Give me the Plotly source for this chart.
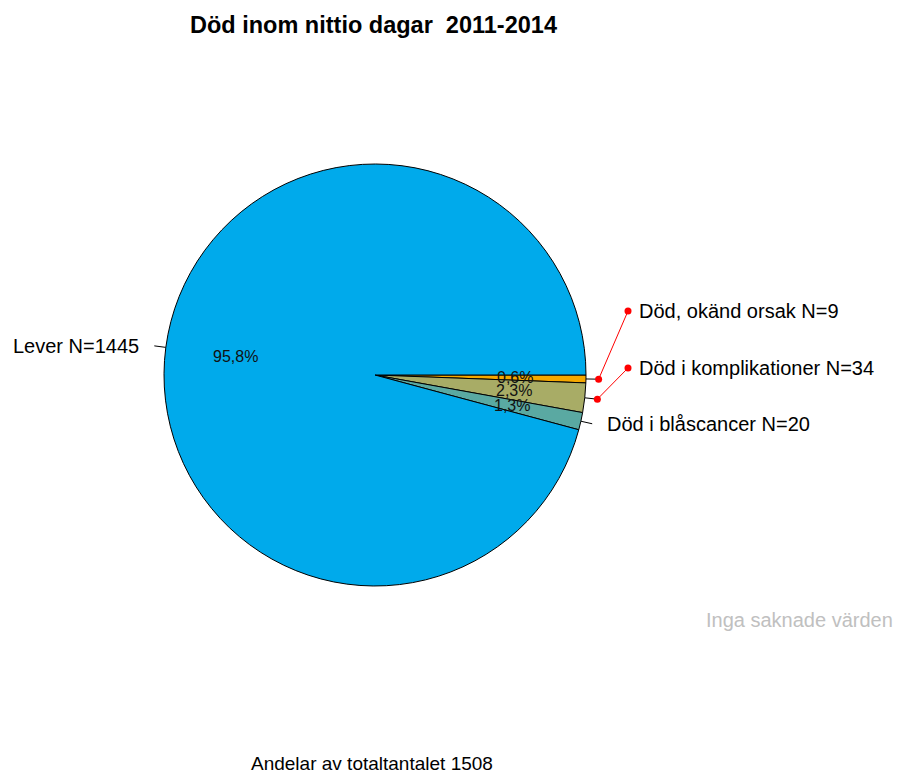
import numpy as np
import plotly.graph_objects as go

# ---- data ----
categories = ["Död, okänd orsak", "Död i komplikationer", "Död i blåscancer", "Lever"]
counts = [9, 34, 20, 1445]
colors = ["#F5A800", "#A8AC66", "#5AA9A2", "#00AAEB"]
total = sum(counts)
title_text = "Död inom nittio dagar  2011-2014"
footer_text = f"Andelar av totaltantalet {total}"
missing_text = "Inga saknade värden"

W, H = 897, 774
cx, cy, R = 375, 375, 211
FONT = "Liberation Sans, Arial"

fig = go.Figure()
fig.add_trace(go.Pie(
    values=counts, labels=categories, sort=False, direction="clockwise", rotation=90,
    marker=dict(colors=colors, line=dict(color="black", width=1)),
    textinfo="none", hoverinfo="skip",
    domain=dict(x=[(cx - R) / W, (cx + R) / W], y=[(H - cy - R) / H, (H - cy + R) / H]),
))

vals = np.array(counts, dtype=float)
frac = vals / vals.sum()
mid = np.cumsum(frac) - frac / 2
theta = 2 * np.pi * mid  # clockwise from 3 o'clock, screen coords

def pt(r, th):
    return cx + r * np.cos(th), cy + r * np.sin(th)

# percent labels (annotations so they sit above the pie)
px, py = pt(0.665 * R, theta)
pct = [f"{100*f:.1f}".replace(".", ",") + "%" for f in frac]
for x_, y_, t_ in zip(px, py, pct):
    fig.add_annotation(x=x_, y=y_, text=t_, showarrow=False, xanchor="center", yanchor="middle",
                       font=dict(family=FONT, size=16, color="#111111"))

# leader ticks (black, radial)
for i in range(len(counts)):
    x0, y0 = pt(R, theta[i])
    x1, y1 = pt(1.055 * R, theta[i])
    fig.add_trace(go.Scatter(x=[x0, x1], y=[y0, y1], mode="lines",
                             line=dict(color="black", width=1), hoverinfo="skip"))

# red repel lines for the two small ones
label_anchor = {0: (628, 311), 1: (628, 368)}
for i, (ax_, ay_) in label_anchor.items():
    x1, y1 = pt(1.06 * R, theta[i])
    fig.add_trace(go.Scatter(x=[x1, ax_], y=[y1, ay_], mode="lines+markers",
                             line=dict(color="#FF0000", width=1),
                             marker=dict(color="#FF0000", size=7), hoverinfo="skip"))

lab_font = dict(family=FONT, size=20, color="black")
names = [f"{c} N={n}" for c, n in zip(categories, counts)]
fig.add_annotation(x=637, y=311, text=names[0], showarrow=False, xanchor="left", yanchor="middle", font=lab_font)
fig.add_annotation(x=637, y=368, text=names[1], showarrow=False, xanchor="left", yanchor="middle", font=lab_font)
x2, y2 = pt(1.055 * R, theta[2])
fig.add_annotation(x=605, y=y2, text=names[2], showarrow=False, xanchor="left", yanchor="middle", font=lab_font)
x3, y3 = pt(1.055 * R, theta[3])
fig.add_annotation(x=x3 - 13, y=y3, text=names[3], showarrow=False, xanchor="right", yanchor="middle", font=lab_font)

fig.add_annotation(x=373, y=25, text=f"<b>{title_text}</b>", showarrow=False, xanchor="center", yanchor="middle",
                   font=dict(family=FONT, size=23.5, color="black"))
fig.add_annotation(x=895, y=620, text=missing_text, showarrow=False, xanchor="right", yanchor="middle",
                   font=dict(family=FONT, size=20, color="#C0C0C0"))
fig.add_annotation(x=372, y=763, text=footer_text, showarrow=False, xanchor="center", yanchor="middle",
                   font=dict(family=FONT, size=19, color="black"))

fig.update_layout(
    width=W, height=H, margin=dict(l=0, r=0, t=0, b=0),
    paper_bgcolor="white", plot_bgcolor="rgba(0,0,0,0)", showlegend=False,
    xaxis=dict(range=[0, W], visible=False, fixedrange=True),
    yaxis=dict(range=[H, 0], visible=False, fixedrange=True),
)
fig.write_html("out.html", config={"displayModeBar": False},
               post_script="document.body.style.margin='0px';document.body.style.overflow='hidden';")
